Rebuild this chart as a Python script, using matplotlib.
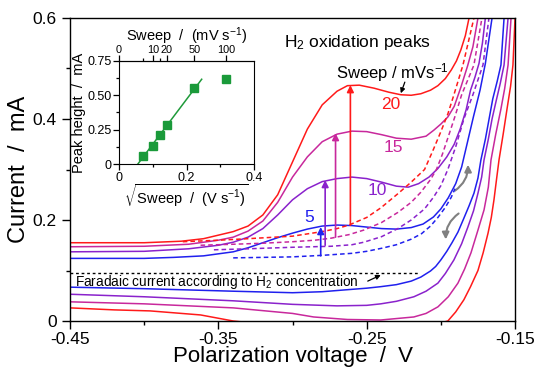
import numpy as np
import matplotlib
matplotlib.use("Agg")
import matplotlib.pyplot as plt
from matplotlib.patches import FancyArrowPatch
from matplotlib.ticker import NullFormatter

plt.rcParams['font.family'] = ['Liberation Sans', 'DejaVu Sans']
plt.rcParams['mathtext.fontset'] = 'custom'
plt.rcParams['mathtext.rm'] = 'Liberation Sans'
plt.rcParams['mathtext.it'] = 'Liberation Sans:italic'
plt.rcParams['mathtext.bf'] = 'Liberation Sans:bold'
plt.rcParams['axes.unicode_minus'] = False

# colours for 5, 10, 15, 20 mV/s
c_blue = '#2020ee'
c_purple = '#8a22cc'
c_magenta = '#c8289c'
c_red = '#ff1a1a'

# ---- forward (anodic) sweeps, solid ----
fwd5_v = [-0.45, -0.42, -0.40, -0.38, -0.36, -0.34, -0.33, -0.32, -0.31, -0.30, -0.29, -0.28, -0.27, -0.26,
          -0.25, -0.24, -0.23, -0.22, -0.212, -0.205, -0.200, -0.195, -0.190, -0.186, -0.182, -0.178,
          -0.1736, -0.170, -0.1655]
fwd5_i = [0.124, 0.124, 0.124, 0.126, 0.129, 0.137, 0.145, 0.155, 0.165, 0.174, 0.182, 0.188, 0.190, 0.189,
          0.186, 0.183, 0.182, 0.185, 0.192, 0.206, 0.222, 0.244, 0.272, 0.305, 0.355, 0.405,
          0.457, 0.510, 0.600]

fwd10_v = [-0.45, -0.40, -0.37, -0.35, -0.34, -0.33, -0.32, -0.31, -0.30, -0.29, -0.28, -0.27, -0.26, -0.25,
           -0.24, -0.23, -0.222, -0.215, -0.208, -0.202, -0.196, -0.191, -0.187, -0.183, -0.180, -0.177,
           -0.1743, -0.172, -0.170]
fwd10_i = [0.137, 0.138, 0.143, 0.150, 0.156, 0.166, 0.183, 0.210, 0.240, 0.262, 0.276, 0.282, 0.285, 0.282,
           0.275, 0.267, 0.265, 0.272, 0.285, 0.302, 0.325, 0.350, 0.380, 0.418, 0.457, 0.483,
           0.510, 0.550, 0.600]

fwd15_v = [-0.45, -0.40, -0.37, -0.35, -0.34, -0.33, -0.32, -0.31, -0.30, -0.29, -0.28, -0.27, -0.26, -0.25,
           -0.24, -0.23, -0.22, -0.21, -0.2047, -0.200, -0.1953, -0.191, -0.1865, -0.182, -0.1784, -0.175]
fwd15_i = [0.147, 0.148, 0.152, 0.160, 0.166, 0.178, 0.198, 0.235, 0.285, 0.325, 0.355, 0.370, 0.376, 0.375,
           0.369, 0.362, 0.360, 0.366, 0.378, 0.390, 0.404, 0.425, 0.463, 0.505, 0.543, 0.600]

fwd20_v = [-0.45, -0.40, -0.375, -0.36, -0.35, -0.34, -0.33, -0.32, -0.31, -0.30, -0.29, -0.28, -0.27,
           -0.263, -0.255, -0.245, -0.235, -0.227, -0.22, -0.2135, -0.207, -0.202, -0.197, -0.193, -0.1895,
           -0.1865, -0.1835, -0.181]
fwd20_i = [0.155, 0.155, 0.158, 0.163, 0.170, 0.177, 0.188, 0.210, 0.250, 0.315, 0.380, 0.428, 0.455,
           0.466, 0.467, 0.461, 0.453, 0.448, 0.447, 0.450, 0.457, 0.466, 0.480, 0.497, 0.515,
           0.537, 0.565, 0.600]

# ---- baselines under the peaks, dashed ----
base5_v = [-0.34, -0.32, -0.30, -0.28, -0.26, -0.25, -0.24, -0.23, -0.22, -0.213, -0.207, -0.202, -0.197,
           -0.193, -0.1905]
base5_i = [0.125, 0.126, 0.127, 0.130, 0.134, 0.138, 0.144, 0.151, 0.162, 0.173, 0.188, 0.205, 0.225,
           0.245, 0.262]

base10_v = [-0.353, -0.33, -0.30, -0.274, -0.26, -0.252, -0.24, -0.229, -0.22, -0.211, -0.205, -0.200,
            -0.1953, -0.190, -0.1845, -0.1784, -0.1716, -0.1676]
base10_i = [0.141, 0.143, 0.146, 0.148, 0.151, 0.156, 0.167, 0.183, 0.200, 0.222, 0.245, 0.268,
            0.300, 0.345, 0.400, 0.448, 0.507, 0.600]

base15_v = [-0.362, -0.34, -0.32, -0.30, -0.285, -0.274, -0.262, -0.252, -0.24, -0.229, -0.22, -0.2135,
            -0.207, -0.203, -0.199, -0.195, -0.1905, -0.186, -0.1777, -0.1723]
base15_i = [0.150, 0.152, 0.154, 0.157, 0.160, 0.164, 0.171, 0.180, 0.195, 0.215, 0.235, 0.255,
            0.280, 0.300, 0.330, 0.365, 0.405, 0.448, 0.507, 0.600]

base20_v = [-0.374, -0.35, -0.33, -0.30, -0.28, -0.27, -0.262, -0.25, -0.2405, -0.229, -0.22, -0.211,
            -0.205, -0.200, -0.1953, -0.1912, -0.1851, -0.1777]
base20_i = [0.157, 0.160, 0.163, 0.168, 0.177, 0.183, 0.190, 0.205, 0.224, 0.252, 0.275, 0.300,
            0.340, 0.375, 0.410, 0.448, 0.507, 0.600]

# ---- reverse (cathodic) sweeps, solid ----
rev5_v = [-0.45, -0.40, -0.34, -0.30, -0.28, -0.263, -0.25, -0.2405, -0.23, -0.22, -0.2135, -0.207, -0.2035,
          -0.200, -0.196, -0.1925, -0.1885, -0.185, -0.181, -0.1777, -0.175, -0.173, -0.170, -0.1675, -0.165,
          -0.162, -0.1595, -0.1574]
rev5_i = [0.067, 0.064, 0.059, 0.056, 0.058, 0.062, 0.065, 0.068, 0.072, 0.079, 0.087, 0.099, 0.108,
          0.121, 0.138, 0.155, 0.176, 0.200, 0.228, 0.253, 0.283, 0.319, 0.360, 0.400, 0.440,
          0.475, 0.507, 0.600]

rev10_v = [-0.45, -0.40, -0.34, -0.30, -0.27, -0.25, -0.2405, -0.23, -0.2182, -0.21, -0.202, -0.197, -0.1912,
           -0.186, -0.1818, -0.178, -0.175, -0.1725, -0.1709, -0.168, -0.1655, -0.1628, -0.160, -0.1574,
           -0.1547]
rev10_i = [0.053, 0.048, 0.040, 0.033, 0.030, 0.031, 0.034, 0.039, 0.048, 0.059, 0.075, 0.094, 0.121,
           0.153, 0.186, 0.218, 0.253, 0.285, 0.319, 0.360, 0.400, 0.435, 0.470, 0.507,
           0.600]

rev15_v = [-0.45, -0.40, -0.34, -0.30, -0.2858, -0.263, -0.2405, -0.2182, -0.21, -0.202, -0.195, -0.1885,
           -0.184, -0.1797, -0.175, -0.1709, -0.168, -0.1662, -0.163, -0.1595, -0.157, -0.1547, -0.1527]
rev15_i = [0.038, 0.034, 0.026, 0.015, 0.008, 0.003, 0.002, 0.008, 0.015, 0.028, 0.048, 0.075,
           0.103, 0.135, 0.180, 0.220, 0.265, 0.319, 0.370, 0.420, 0.460, 0.507, 0.600]

rev20_v = [-0.45, -0.42, -0.396, -0.362, -0.34, -0.30, -0.25, -0.21, -0.1953, -0.19, -0.1845, -0.18, -0.175,
           -0.1715, -0.1682, -0.166, -0.1642, -0.1625, -0.1608, -0.158, -0.1554, -0.153, -0.1514, -0.1500]
rev20_i = [0.026, 0.022, 0.020, 0.012, 0.000, -0.012, -0.020, -0.012, 0.000, 0.018, 0.042, 0.068, 0.100,
           0.135, 0.174, 0.205, 0.240, 0.280, 0.319, 0.370, 0.420, 0.465, 0.507, 0.600]

# ---- peak arrows (5, 10, 15, 20 mV/s) ----
peak_v = [-0.281, -0.278, -0.271, -0.261]
peak_base = [0.129, 0.150, 0.166, 0.190]
peak_top = [0.186, 0.279, 0.372, 0.467]
peak_labels = ['5', '10', '15', '20']
peak_label_v = [-0.289, -0.2426, -0.2318, -0.2338]
peak_label_i = [0.204, 0.259, 0.343, 0.428]

faradaic_i = 0.095

# ---- inset: peak height vs sqrt(sweep) ----
sweep_mv = np.array([5, 10, 15, 20, 50, 100])
peak_height = np.array([0.060, 0.133, 0.210, 0.283, 0.550, 0.618])
top_ticks_mv = [0, 10, 20, 50, 100]
top_minor_mv = [5, 15]

colors = [c_blue, c_purple, c_magenta, c_red]
fwd = [(fwd5_v, fwd5_i), (fwd10_v, fwd10_i), (fwd15_v, fwd15_i), (fwd20_v, fwd20_i)]
base = [(base5_v, base5_i), (base10_v, base10_i), (base15_v, base15_i), (base20_v, base20_i)]
rev = [(rev5_v, rev5_i), (rev10_v, rev10_i), (rev15_v, rev15_i), (rev20_v, rev20_i)]

fig = plt.figure(figsize=(5.37, 3.68), dpi=100)
ax = fig.add_axes([0.1304, 0.1277, 0.8287, 0.8234])

for c, (fv, fi), (bv, bi), (rv, ri) in zip(colors, fwd, base, rev):
    ax.plot(fv, fi, color=c, lw=1.1)
    ax.plot(rv, ri, color=c, lw=1.1)
    ax.plot(bv, bi, color=c, lw=1.1, ls=(0, (3, 2)))

ax.plot([-0.45, -0.215], [faradaic_i, faradaic_i], color='black', lw=1.0, ls=(0, (2, 2)))

for c, v, b, t in zip(colors, peak_v, peak_base, peak_top):
    ax.annotate('', xy=(v, t), xytext=(v, b),
                arrowprops=dict(arrowstyle='-|>', color=c, lw=1.2, mutation_scale=10,
                                shrinkA=0, shrinkB=0))

for c, s, v, i in zip(colors, peak_labels, peak_label_v, peak_label_i):
    ax.text(v, i, s, color=c, fontsize=12.5, ha='center', va='center')

ax.text(-0.306, 0.552, 'H$_2$ oxidation peaks', fontsize=12.5, va='center')
ax.text(-0.271, 0.491, 'Sweep / mVs$^{-1}$', fontsize=12, va='center')
ax.annotate('', xy=(-0.227, 0.451), xytext=(-0.2243, 0.473),
            arrowprops=dict(arrowstyle='-|>', color='black', lw=0.9, mutation_scale=7,
                            shrinkA=0, shrinkB=0))
ax.text(-0.4466, 0.077, 'Faradaic current according to H$_2$ concentration', fontsize=9.8, va='center')
ax.annotate('', xy=(-0.2405, 0.091), xytext=(-0.2493, 0.079),
            arrowprops=dict(arrowstyle='-|>', color='black', lw=0.9, mutation_scale=7,
                            shrinkA=0, shrinkB=0))

# grey sweep-direction arrows
ax.add_patch(FancyArrowPatch((-0.192, 0.255), (-0.1818, 0.315), connectionstyle='arc3,rad=0.3',
                             arrowstyle='-|>', mutation_scale=10, color='#808080', lw=1.5))
ax.add_patch(FancyArrowPatch((-0.1865, 0.216), (-0.1966, 0.156), connectionstyle='arc3,rad=0.3',
                             arrowstyle='-|>', mutation_scale=10, color='#808080', lw=1.5))

ax.set_xlim(-0.45, -0.15)
ax.set_ylim(0, 0.6)
ax.set_xticks([-0.45, -0.35, -0.25, -0.15])
ax.set_xticklabels(['-0.45', '-0.35', '-0.25', '-0.15'])
ax.set_xticks([-0.40, -0.30, -0.20], minor=True)
ax.set_yticks([0, 0.2, 0.4, 0.6])
ax.set_yticklabels(['0', '0.2', '0.4', '0.6'])
ax.set_yticks([0.1, 0.3, 0.5], minor=True)
ax.tick_params(which='major', length=6, width=1, labelsize=12.5, direction='out')
ax.tick_params(axis='x', which='major', pad=2)
ax.tick_params(which='minor', length=3, width=1, direction='out')
for sp in ax.spines.values():
    sp.set_linewidth(1.0)
ax.set_xlabel('Polarization voltage  /  V', fontsize=16, labelpad=-0.5)
ax.set_ylabel('Current  /  mA', fontsize=17, labelpad=2)

# inset
ins = fig.add_axes([0.2216, 0.5543, 0.2514, 0.280])
x_sqrt = np.sqrt(sweep_mv / 1000.0)
fit = np.polyfit(x_sqrt[:5], peak_height[:5], 1)
x_line = np.array([-fit[1] / fit[0], 0.245])
ins.plot(x_line, np.polyval(fit, x_line), color='#1f9a3a', lw=1.1)
ins.plot(x_sqrt, peak_height, 's', color='#1a9a3a', ms=5.5, mec='#1a9a3a')
ins.set_xlim(0, 0.4)
ins.set_ylim(0, 0.75)
ins.set_xticks([0, 0.2, 0.4])
ins.set_xticklabels(['0', '0.2', '0.4'])
ins.set_xticks([0.1, 0.3], minor=True)
ins.set_yticks([0, 0.25, 0.5, 0.75])
ins.set_yticklabels(['0', '0.25', '0.50', '0.75'])
ins.set_yticks([0.125, 0.375, 0.625], minor=True)
ins.tick_params(which='major', length=4, width=0.9, labelsize=9, pad=1.5)
ins.tick_params(which='minor', length=2.5, width=0.9)
ins.set_ylabel('Peak height  /  mA', fontsize=10.5, labelpad=1)
ins.set_xlabel(r'$\sqrt{\mathrm{Sweep\ \ /\ \ (V\ s^{-1})}}$', fontsize=10.5, labelpad=-1)

top = ins.secondary_xaxis('top')
top.set_xticks(np.sqrt(np.array(top_ticks_mv) / 1000.0))
top.set_xticklabels([str(t) for t in top_ticks_mv])
top.set_xticks(np.sqrt(np.array(top_minor_mv) / 1000.0), minor=True)
top.xaxis.set_minor_formatter(NullFormatter())
top.tick_params(which='major', length=4, width=0.9, labelsize=7.8, pad=0.5)
top.tick_params(which='minor', length=2.5, width=0.9)
top.set_xlabel('Sweep  /  (mV s$^{-1}$)', fontsize=10.5, labelpad=3)

fig.savefig('out.png', dpi=100)
